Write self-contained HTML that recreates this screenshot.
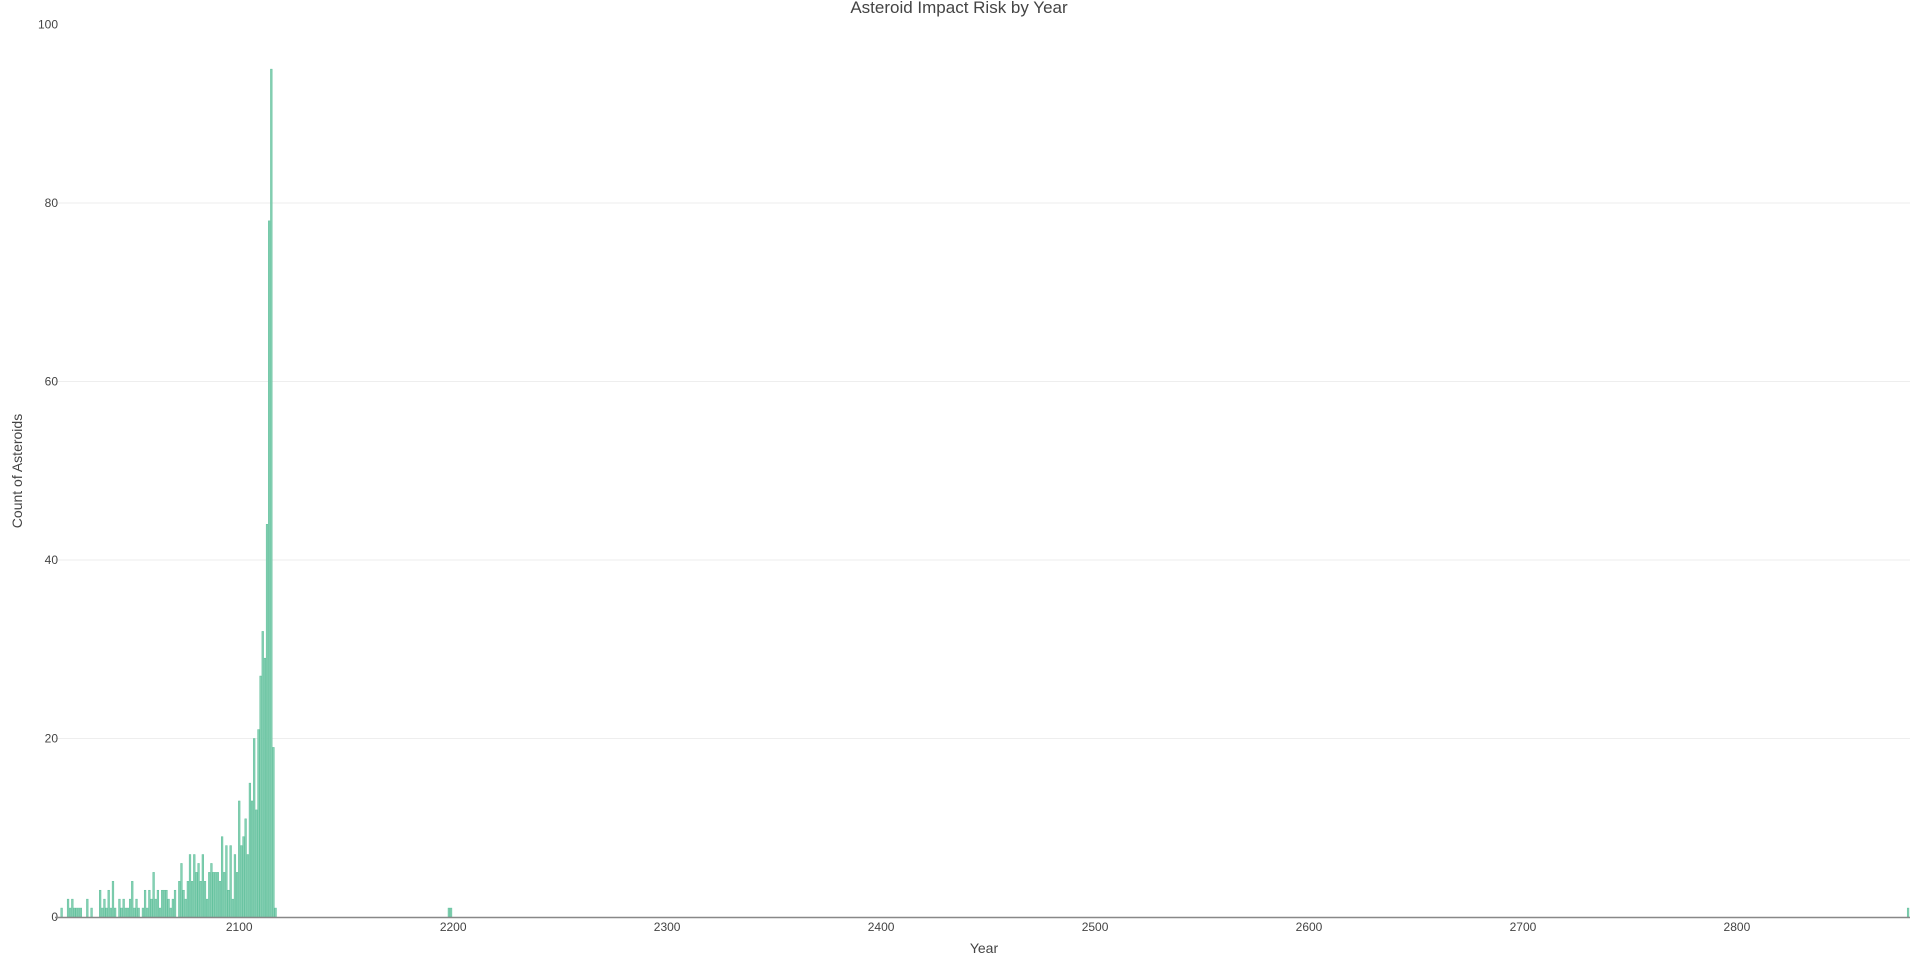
<!DOCTYPE html>
<html><head><meta charset="utf-8">
<style>
html,body{margin:0;padding:0;background:#fff;}
svg{display:block;font-family:"Liberation Sans",sans-serif;}
</style></head>
<body>
<svg id="chart" width="1920" height="957">
<text x="959" y="13" text-anchor="middle" font-size="17" fill="#444">Asteroid Impact Risk by Year</text>
<g id="grid"></g>
<g id="yticks"></g>
<g id="bars"></g>
<line x1="55" x2="1910" y1="917.5" y2="917.5" stroke="#888" stroke-width="1.5"/>
<g id="xticks"></g>
<text x="984" y="953" text-anchor="middle" font-size="14" fill="#444">Year</text>
<text transform="translate(22,471) rotate(-90)" text-anchor="middle" font-size="14" fill="#444">Count of Asteroids</text>
</svg>
<script>
const years = [2017,2020,2021,2022,2023,2024,2025,2026,2029,2031,2035,2036,2037,2038,2039,2040,2041,2042,2044,2045,2046,2047,2048,2049,2050,2051,2052,2053,2055,2056,2057,2058,2059,2060,2061,2062,2063,2064,2065,2066,2067,2068,2069,2070,2072,2073,2074,2075,2076,2077,2078,2079,2080,2081,2082,2083,2084,2085,2086,2087,2088,2089,2090,2091,2092,2093,2094,2095,2096,2097,2098,2099,2100,2101,2102,2103,2104,2105,2106,2107,2108,2109,2110,2111,2112,2113,2114,2115,2116,2117,2198,2199,2880];
const counts = [1,2,1,2,1,1,1,1,2,1,3,1,2,1,3,1,4,1,2,1,2,1,1,2,4,1,2,1,1,3,1,3,2,5,2,3,1,3,3,3,2,1,2,3,4,6,3,2,4,7,4,7,5,6,4,7,4,2,5,6,5,5,5,4,9,5,8,3,8,2,7,5,13,8,9,11,7,15,13,20,12,21,27,32,29,44,78,95,19,1,1,1,1];
const yTicks = [0,20,40,60,80,100];
const xTicks = [2100,2200,2300,2400,2500,2600,2700,2800];
const X0=2013.9, X1=2880.9, PL=55, PR=1910, Y0=917, Y100=24.5;
const xs = v => PL + (v-X0)/(X1-X0)*(PR-PL);
const ys = v => Y0 - v/100*(Y0-Y100);
const NS="http://www.w3.org/2000/svg";
const grid=document.getElementById('grid'), yt=document.getElementById('yticks'), xt=document.getElementById('xticks'), bars=document.getElementById('bars');
yTicks.forEach(v=>{
  if(v>0&&v<100){const l=document.createElementNS(NS,'line');
  l.setAttribute('x1',PL);l.setAttribute('x2',PR);l.setAttribute('y1',ys(v));l.setAttribute('y2',ys(v));
  l.setAttribute('stroke','#eee');l.setAttribute('stroke-width','1');
  
  
  grid.appendChild(l);}
  const t=document.createElementNS(NS,'text');
  t.setAttribute('x',58);t.setAttribute('y',ys(v)+4);t.setAttribute('text-anchor','end');
  t.setAttribute('font-size','12');t.setAttribute('fill','#444');t.textContent=v;
  
  
  yt.appendChild(t);
});
xTicks.forEach(v=>{
  const t=document.createElementNS(NS,'text');
  t.setAttribute('x',xs(v));t.setAttribute('y',931);t.setAttribute('text-anchor','middle');
  t.setAttribute('font-size','12');t.setAttribute('fill','#444');t.textContent=v;
  
  
  xt.appendChild(t);
});
const step=(PR-PL)/(X1-X0);
years.forEach((yr,i)=>{
  const r=document.createElementNS(NS,'rect');
  const w=step*0.8;
  r.setAttribute('x',xs(yr)-w/2);r.setAttribute('width',w);
  r.setAttribute('y',ys(counts[i]));r.setAttribute('height',Y0-ys(counts[i]));
  r.setAttribute('fill','#86d0b3');r.setAttribute('stroke','#5fbf9b');r.setAttribute('stroke-width','0.5');
  
  
  bars.appendChild(r);
});
</script>
</body></html>
